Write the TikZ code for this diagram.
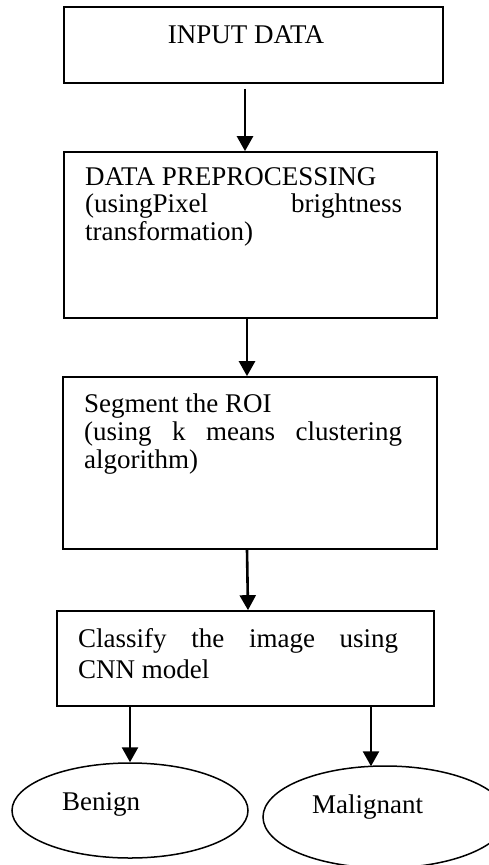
\documentclass[tikz,border=0pt]{standalone}
\usepackage{fontspec}
\setmainfont{Liberation Serif}
\usetikzlibrary{arrows.meta,shapes.geometric}
\begin{document}
\begin{tikzpicture}[x=1pt,y=-1pt,
  box/.style={draw,line width=1.7pt,rectangle,inner sep=0pt},
  oval/.style={draw,line width=1.5pt,ellipse,inner sep=0pt},
  txt/.style={inner sep=0pt,anchor=base west,font=\fontsize{27}{30}\selectfont},
  jtxt/.style={txt,align=left},
  arr/.style={line width=2.6pt,-{Triangle[width=16pt,length=15pt]}}]
\useasboundingbox (0,0) rectangle (489,865);
% boxes
\node[box,minimum width=379pt,minimum height=76pt] (b1) at (253.5,45) {};
\node[box,minimum width=373pt,minimum height=166pt] (b2) at (250.5,235) {};
\node[box,minimum width=374pt,minimum height=172pt] (b3) at (250,463) {};
\node[box,minimum width=377pt,minimum height=95pt] (b4) at (245.5,658.5) {};
\node[oval,minimum width=236pt,minimum height=95pt] (e1) at (130,810.5) {};
\node[oval,minimum width=244pt,minimum height=102pt] (e2) at (385,817) {};
% texts
\node[txt,anchor=base] (t1) at (246,43) {INPUT DATA};
\node[txt] (t2a) at (85,185) {DATA PREPROCESSING};
\node[jtxt,text width=317pt] (t2b) at (85,212) {(usingPixel\hfill brightness};
\node[txt] (t2c) at (85,240) {transformation)};
\node[txt] (t3a) at (84,412) {Segment the ROI};
\node[jtxt,text width=318pt] (t3b) at (84,440) {(using\hfill k\hfill means\hfill clustering};
\node[txt] (t3c) at (84,468) {algorithm)};
\node[jtxt,text width=320pt] (t4a) at (78,647) {Classify\hfill the\hfill image\hfill using};
\node[txt] (t4b) at (78,678) {CNN model};
\node[txt] (t5) at (62,810) {Benign};
\node[txt] (t6) at (312,813) {Malignant};
% connectors
\draw[arr] ([xshift=-8.5pt,yshift=-5pt]b1.south) -- ([xshift=-5.5pt]b2.north);
\draw[arr] ([xshift=-3.5pt]b2.south) -- ([xshift=-3pt]b3.north);
\draw[arr] ([xshift=-3pt]b3.south) -- ([xshift=2.5pt]b4.north);
\draw[arr] (b4.south -| e1.north) -- (e1.north);
\draw[arr] ([xshift=-14pt]b4.south -| e2.north) -- ([xshift=-14pt,yshift=-1pt]e2.north);
\end{tikzpicture}
\end{document}
